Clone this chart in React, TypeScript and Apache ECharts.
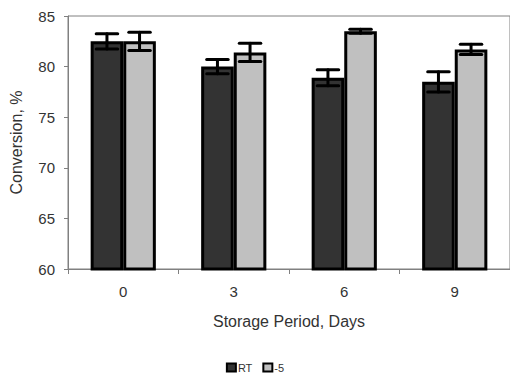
import React, { useEffect, useRef } from "react";
import * as echarts from "echarts";

const categories = ["0", "3", "6", "9"];
const rtValues = [82.5, 80.0, 78.9, 78.5];
const rtErrors = [0.75, 0.7, 0.8, 1.0];
const m5Values = [82.5, 81.4, 83.5, 81.7];
const m5Errors = [0.9, 0.9, 0.2, 0.5];
const yTicks = { min: 60, max: 85, interval: 5 };

const GAP = 0.41;
const FONT = "Liberation Sans, Arial, sans-serif";

function errorSeries(values: number[], errors: number[], side: number) {
  return {
    type: "custom",
    z: 10,
    silent: true,
    data: values.map((v, i) => [i, v, errors[i]]),
    renderItem: (params: any, api: any) => {
      const idx = api.value(0);
      const v = api.value(1);
      const e = api.value(2);
      const catW = api.size([1, 0])[0];
      const barW = (catW * (1 - GAP)) / 2;
      const hi = api.coord([idx, v + e]);
      const lo = api.coord([idx, v - e]);
      const x = hi[0] + (side * barW) / 2;
      const half = barW * 0.33;
      const style = { stroke: "#000", lineWidth: 3, lineCap: "round" };
      return {
        type: "group",
        children: [
          { type: "line", shape: { x1: x, y1: hi[1], x2: x, y2: lo[1] }, style },
          { type: "line", shape: { x1: x - half, y1: hi[1], x2: x + half, y2: hi[1] }, style },
          { type: "line", shape: { x1: x - half, y1: lo[1], x2: x + half, y2: lo[1] }, style },
        ],
      };
    },
  };
}

export default function App() {
  const ref = useRef<HTMLDivElement>(null);
  useEffect(() => {
    const chart = echarts.init(ref.current!, null, { renderer: "svg" });
    chart.setOption({
      animation: false,
      textStyle: { fontFamily: FONT, color: "#333" },
      grid: {
        left: 66.5,
        top: 16,
        width: 447,
        height: 253,
        show: true,
        borderColor: "#808080",
        borderWidth: 1,
      },
      legend: {
        top: 362,
        left: "center",
        padding: 0,
        itemWidth: 9,
        itemHeight: 8,
        itemGap: 10,
        icon: "rect",
        textStyle: { fontSize: 11, color: "#333", fontFamily: FONT, padding: [0, 0, 0, -3] },
        itemStyle: { borderWidth: 2, borderColor: "#000" },
        data: ["RT", "-5"],
      },
      xAxis: {
        type: "category",
        data: categories,
        name: "Storage Period, Days",
        nameLocation: "middle",
        nameGap: 44,
        nameTextStyle: { fontSize: 16, color: "#333", fontFamily: FONT },
        axisLine: { lineStyle: { color: "#808080", width: 1 } },
        axisTick: { show: true, length: 5, lineStyle: { color: "#808080" } },
        axisLabel: { fontSize: 15, color: "#333", margin: 15, fontFamily: FONT },
      },
      yAxis: {
        type: "value",
        min: yTicks.min,
        max: yTicks.max,
        interval: yTicks.interval,
        name: "Conversion, %",
        nameLocation: "middle",
        nameGap: 44,
        nameTextStyle: { fontSize: 16, color: "#333", fontFamily: FONT },
        axisLine: { show: true, lineStyle: { color: "#808080", width: 1 } },
        axisTick: { show: true, length: 4, lineStyle: { color: "#808080" } },
        axisLabel: { fontSize: 15, color: "#333", margin: 13, fontFamily: FONT },
        splitLine: { show: false },
      },
      series: [
        {
          name: "RT",
          type: "bar",
          data: rtValues,
          barGap: "0%",
          barCategoryGap: GAP * 100 + "%",
          itemStyle: { color: "#333333", borderColor: "#000", borderWidth: 3 },
        },
        {
          name: "-5",
          type: "bar",
          data: m5Values,
          barGap: "0%",
          barCategoryGap: GAP * 100 + "%",
          itemStyle: { color: "#c0c0c0", borderColor: "#000", borderWidth: 3 },
        },
        errorSeries(rtValues, rtErrors, -1),
        errorSeries(m5Values, m5Errors, 1),
      ],
    });
    return () => chart.dispose();
  }, []);
  return (
    <div
      ref={ref}
      style={{ position: "absolute", left: 0, top: 0, width: 510, height: 377 }}
    />
  );
}
